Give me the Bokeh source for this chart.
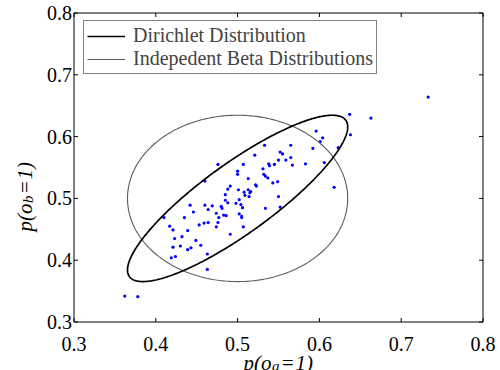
import numpy as np
from bokeh.plotting import figure
from bokeh.models import Legend, LegendItem, Label, Range1d
from bokeh.core.properties import value
from bokeh.embed import file_html
from bokeh.resources import INLINE

# ---- data ----
x_ticks = [0.3, 0.4, 0.5, 0.6, 0.7, 0.8]
x_tick_labels = ["0.3", "0.4", "0.5", "0.6", "0.7", "0.8"]
y_ticks = [0.3, 0.4, 0.5, 0.6, 0.7, 0.8]
y_tick_labels = ["0.3", "0.4", "0.5", "0.6", "0.7", "0.8"]

pa = [0.733, 0.637, 0.663, 0.638, 0.596, 0.604, 0.601, 0.623, 0.592, 0.565,
      0.533, 0.552, 0.555, 0.565, 0.559, 0.521, 0.606, 0.583, 0.567, 0.545,
      0.538, 0.539, 0.507, 0.476, 0.531, 0.500, 0.500, 0.532, 0.534, 0.537,
      0.513, 0.460, 0.549, 0.543, 0.522, 0.523, 0.618, 0.491, 0.488, 0.501,
      0.513, 0.516, 0.508, 0.515, 0.509, 0.514, 0.485, 0.550, 0.502, 0.485,
      0.488, 0.498, 0.504, 0.442, 0.460, 0.552, 0.534, 0.480, 0.481, 0.469,
      0.506, 0.464, 0.446, 0.474, 0.483, 0.486, 0.502, 0.505, 0.505, 0.477,
      0.410, 0.435, 0.476, 0.459, 0.464, 0.453, 0.474, 0.507, 0.417, 0.421,
      0.439, 0.491, 0.423, 0.432, 0.449, 0.430, 0.455, 0.421, 0.443, 0.439,
      0.463, 0.424, 0.419, 0.463, 0.362, 0.378, 0.550]
pb = [0.664, 0.636, 0.630, 0.603, 0.609, 0.598, 0.592, 0.582, 0.581, 0.586,
      0.586, 0.575, 0.572, 0.566, 0.562, 0.570, 0.558, 0.556, 0.554, 0.555,
      0.556, 0.553, 0.555, 0.555, 0.548, 0.544, 0.539, 0.539, 0.536, 0.533,
      0.532, 0.528, 0.527, 0.525, 0.522, 0.520, 0.518, 0.520, 0.515, 0.514,
      0.514, 0.511, 0.510, 0.509, 0.505, 0.503, 0.506, 0.503, 0.498, 0.497,
      0.493, 0.492, 0.490, 0.489, 0.489, 0.486, 0.484, 0.487, 0.484, 0.488,
      0.485, 0.482, 0.478, 0.476, 0.473, 0.472, 0.475, 0.471, 0.469, 0.469,
      0.469, 0.469, 0.461, 0.460, 0.461, 0.457, 0.454, 0.454, 0.455, 0.449,
      0.448, 0.442, 0.435, 0.438, 0.432, 0.423, 0.424, 0.421, 0.420, 0.417,
      0.410, 0.406, 0.404, 0.385, 0.342, 0.341, 0.562]

# ellipse parameters (centre, marginal radius, correlation)
center = [0.5, 0.5]
radius = 0.1346
rho_dirichlet = 0.86
rho_independent = 0.0

legend_labels = ["Dirichlet Distribution", "Indepedent Beta Distributions"]
x_title = ["p(o", "a", "=", "1)"]
y_title = ["p(o", "b", "=", "1)"]

# ---- layout constants (pixels) ----
SERIF = "Liberation Serif"
W, H = 500, 370
XMIN, XMAX, YMIN, YMAX = 0.3, 0.8, 0.3, 0.8
FL, FR, FT, FB = 73.5, 482.5, 12.5, 321.5     # axes box edges on the canvas
XS = (FR - FL) / (XMAX - XMIN)                # px per data unit
YS = (FB - FT) / (YMAX - YMIN)
TICK = 4.0


def dx_(px):   # canvas px -> data x
    return XMIN + (px - FL) / XS


def dy_(py):   # canvas px (from top) -> data y
    return YMIN + (FB - py) / YS


p = figure(width=W, height=H,
           x_range=Range1d(dx_(0), dx_(W)), y_range=Range1d(dy_(H), dy_(0)),
           output_backend="svg", toolbar_location=None, min_border=0,
           x_axis_location=None, y_axis_location=None)
p.grid.visible = False
p.outline_line_color = None
p.background_fill_color = "white"
p.border_fill_color = "white"

# axes box
p.line([XMIN, XMAX, XMAX, XMIN, XMIN], [YMIN, YMIN, YMAX, YMAX, YMIN],
       line_color="black", line_width=1)

# inward ticks on all four sides
nx, ny = len(x_ticks), len(y_ticks)
p.segment(x0=x_ticks, y0=[YMIN] * nx, x1=x_ticks, y1=[YMIN + TICK / YS] * nx,
          line_color="black", line_width=1)
p.segment(x0=x_ticks, y0=[YMAX] * nx, x1=x_ticks, y1=[YMAX - TICK / YS] * nx,
          line_color="black", line_width=1)
p.segment(x0=[XMIN] * ny, y0=y_ticks, x1=[XMIN + TICK / XS] * ny, y1=y_ticks,
          line_color="black", line_width=1)
p.segment(x0=[XMAX] * ny, y0=y_ticks, x1=[XMAX - TICK / XS] * ny, y1=y_ticks,
          line_color="black", line_width=1)

# tick labels
p.text(x=x_ticks, y=[YMIN] * nx, text=x_tick_labels, text_align="center",
       text_baseline="alphabetic", y_offset=22, text_font=value(SERIF),
       text_font_size=value("20px"), text_color="black")
p.text(x=[XMIN] * ny, y=y_ticks, text=y_tick_labels, text_align="right",
       text_baseline="middle", x_offset=-2, text_font=value(SERIF),
       text_font_size=value("20px"), text_color="black")


def ellipse_curve(rho, n=400):
    t = np.linspace(0, 2 * np.pi, n)
    ex = center[0] + radius * np.cos(t)
    ey = center[1] + radius * (rho * np.cos(t) + np.sqrt(1 - rho ** 2) * np.sin(t))
    return ex, ey


ex_d, ey_d = ellipse_curve(rho_dirichlet)
ex_i, ey_i = ellipse_curve(rho_independent)

pts = p.scatter(pa, pb, marker="circle", size=3.2, color="#0000ff", line_color=None)
r_ind = p.line(ex_i, ey_i, line_color="#5a5a5a", line_width=1.1)
r_dir = p.line(ex_d, ey_d, line_color="black", line_width=1.7)

legend = Legend(items=[LegendItem(label=legend_labels[0], renderers=[r_dir]),
                       LegendItem(label=legend_labels[1], renderers=[r_ind])],
                location=(83, 296), margin=0, padding=3,
                spacing=0, label_height=22, glyph_height=22, glyph_width=38,
                label_standoff=8, label_text_font=SERIF, label_text_font_size="20px",
                border_line_color="black", border_line_width=1,
                background_fill_color="white", background_fill_alpha=1.0)
p.add_layout(legend, "center")


# ---- axis titles (real text, with subscripts) ----
def lab(px, py, text, size, align, angle=0.0):
    p.add_layout(Label(x=dx_(px), y=dy_(py), text=text, text_font=SERIF,
                       text_font_style="italic", text_font_size=size, text_align=align,
                       text_baseline="alphabetic", angle=angle, text_color="black"))


# x title: p(o_a=1)
lab(271.0, 362.0, x_title[0], "21px", "right")
lab(271.5, 365.0, x_title[1], "15px", "left")
lab(280.0, 362.0, x_title[2], "21px", "left")
lab(295.0, 362.0, x_title[3], "21px", "left")

# y title: p(o_b=1), rotated to read upwards
A = np.pi / 2
lab(24.0, 203.0, y_title[0], "21px", "right", A)
lab(27.0, 202.5, y_title[1], "15px", "left", A)
lab(24.0, 194.0, y_title[2], "21px", "left", A)
lab(24.0, 179.0, y_title[3], "21px", "left", A)

open("out.html", "w").write(file_html(p, INLINE))
